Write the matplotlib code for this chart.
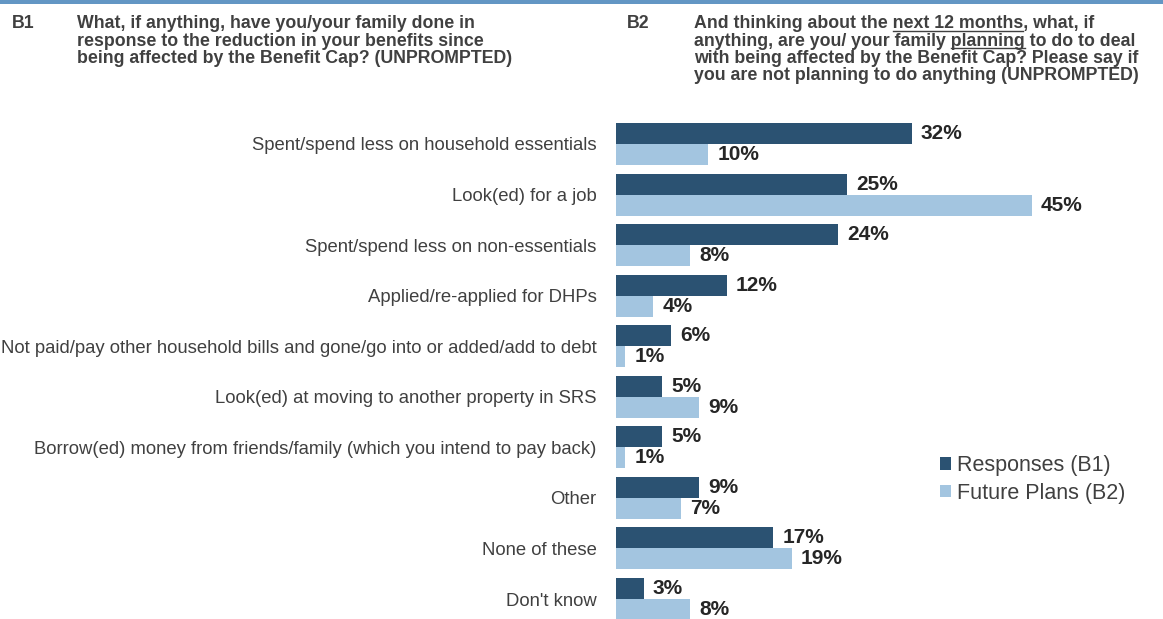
import numpy as np
import matplotlib
matplotlib.use("Agg")
import matplotlib.pyplot as plt
from matplotlib.patches import Rectangle

plt.rcParams['font.family'] = ['Liberation Sans', 'DejaVu Sans']

# Data
categories = [
    "Spent/spend less on household essentials",
    "Look(ed) for a job",
    "Spent/spend less on non-essentials",
    "Applied/re-applied for DHPs",
    "Not paid/pay other household bills and gone/go into or added/add to debt",
    "Look(ed) at moving to another property in SRS",
    "Borrow(ed) money from friends/family (which you intend to pay back)",
    "Other",
    "None of these",
    "Don't know",
]
responses_b1 = [32, 25, 24, 12, 6, 5, 5, 9, 17, 3]
future_b2 = [10, 45, 8, 4, 1, 9, 1, 7, 19, 8]
series_names = ["Responses (B1)", "Future Plans (B2)"]

DARK = '#2b5272'
LIGHT = '#a3c5e0'
TEXT = '#404040'

W, H = 1163, 619
fig = plt.figure(figsize=(W / 100, H / 100), dpi=100)

# top border line
fig.patches.append(Rectangle((0, 1 - 4 / H), 1, 4 / H, transform=fig.transFigure,
                             facecolor='#6396c4', edgecolor='none'))

ax = fig.add_axes([616 / W, 0, (1078 - 616) / W, 1 - 118.7 / H])
y = np.arange(len(categories))
h = 0.415
ax.barh(y - h / 2, responses_b1, height=h, color=DARK, label=series_names[0])
ax.barh(y + h / 2, future_b2, height=h, color=LIGHT, label=series_names[1])

for yi, v in zip(y, responses_b1):
    ax.text(v + 1.0, yi - h / 2, f"{v}%", va='center', ha='left',
            fontsize=15, fontweight='bold', color='#262626')
for yi, v in zip(y, future_b2):
    ax.text(v + 1.0, yi + h / 2, f"{v}%", va='center', ha='left',
            fontsize=15, fontweight='bold', color='#262626')

ax.set_xlim(0, 50)
ax.set_ylim(9.395, -0.5)
ax.set_yticks(y)
ax.set_yticklabels(categories, fontsize=13.3, color=TEXT)
ax.tick_params(axis='y', length=0, pad=14)
ax.set_xticks([])
for s in ax.spines.values():
    s.set_visible(False)

ax.legend(loc='center left', bbox_to_anchor=(940 / W, 1 - 479.5 / H),
          bbox_transform=fig.transFigure, frameon=False, fontsize=15.5,
          handlelength=0.5, handleheight=0.5, handletextpad=0.3,
          labelspacing=0.3, labelcolor=TEXT, borderpad=0, borderaxespad=0)

# Question headers
QFS = 12.75
LINE = 17.5
BASE = 28.0
fig.text(12 / W, 1 - BASE / H, "B1", fontsize=QFS, fontweight='bold', color=TEXT, va='baseline')
b1_lines = [
    "What, if anything, have you/your family done in",
    "response to the reduction in your benefits since",
    "being affected by the Benefit Cap? (UNPROMPTED)",
]
for i, line in enumerate(b1_lines):
    fig.text(77 / W, 1 - (BASE + i * LINE) / H, line, fontsize=QFS,
             fontweight='bold', color=TEXT, va='baseline')

fig.text(627 / W, 1 - BASE / H, "B2", fontsize=QFS, fontweight='bold', color=TEXT, va='baseline')
# each line: list of (text, underlined)
b2_lines = [
    [("And thinking about the ", False), ("next 12 months", True), (", what, if", False)],
    [("anything, are you/ your family ", False), ("planning", True), (" to do to deal", False)],
    [("with being affected by the Benefit Cap? Please say if", False)],
    [("you are not planning to do anything (UNPROMPTED)", False)],
]
X2 = 694
fig.canvas.draw()
renderer = fig.canvas.get_renderer()
for i, parts in enumerate(b2_lines):
    ypos = 1 - (BASE + i * LINE) / H
    full = "".join(p[0] for p in parts)
    fig.text(X2 / W, ypos, full, fontsize=QFS, fontweight='bold', color=TEXT, va='baseline')
    prefix = ""
    for txt, ul in parts:
        if ul:
            t0 = fig.text(0, 0, prefix + "|", fontsize=QFS, fontweight='bold')
            t1 = fig.text(0, 0, prefix + txt + "|", fontsize=QFS, fontweight='bold')
            tb = fig.text(0, 0, "|", fontsize=QFS, fontweight='bold')
            bar_w = tb.get_window_extent(renderer).width
            x0 = X2 + t0.get_window_extent(renderer).width - bar_w
            x1 = X2 + t1.get_window_extent(renderer).width - bar_w
            for t in (t0, t1, tb):
                t.remove()
            uy = ypos - 2.5 / H
            fig.add_artist(plt.Line2D([x0 / W, x1 / W], [uy, uy],
                                      transform=fig.transFigure, color=TEXT, lw=1.0))
        prefix += txt

fig.savefig("out.png", dpi=100)
